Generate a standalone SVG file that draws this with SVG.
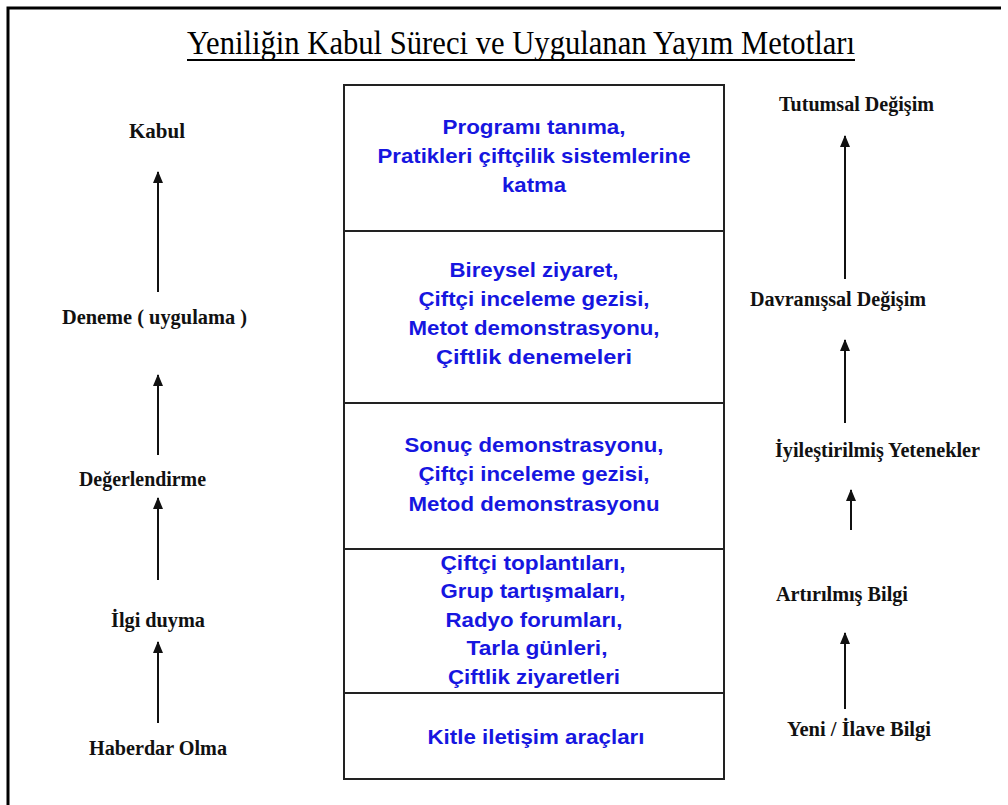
<svg xmlns="http://www.w3.org/2000/svg" width="1008" height="805" viewBox="0 0 1008 805">
<style>
.stage{font-family:"Liberation Serif","Times New Roman",serif;font-weight:bold;font-size:20px;fill:#111;}
.meth{font-family:"Liberation Sans",Arial,sans-serif;font-weight:bold;font-size:21px;fill:#1616e0;text-anchor:middle;}
.arr{stroke:#111;stroke-width:2;fill:none;}
.box{fill:#fff;stroke:#222;stroke-width:2;}
</style>
<defs>
<marker id="ah" viewBox="0 0 12 10" refX="11" refY="5" markerWidth="12" markerHeight="10" markerUnits="userSpaceOnUse" orient="auto">
<path d="M0,0 L12,5 L0,10 Z" fill="#111"/>
</marker>
</defs>
<rect width="1008" height="805" fill="#fff"/>
<g id="frame">
<path d="M8,805 L8,8 L1001,8" stroke="#000" stroke-width="3" fill="none"/>
</g>
<g id="title">
<text x="187" y="54" font-family="'Liberation Serif','Times New Roman',serif" font-size="34" fill="#000" textLength="668" lengthAdjust="spacingAndGlyphs">Yeniliğin Kabul Süreci ve Uygulanan Yayım Metotları</text>
<line x1="187" y1="60" x2="855" y2="60" stroke="#000" stroke-width="2"/>
</g>
<g id="methods">
<g id="box1">
<rect class="box" x="344" y="85" width="380" height="146"/>
<text class="meth" x="534" y="134" textLength="183" lengthAdjust="spacingAndGlyphs">Programı tanıma,</text>
<text class="meth" x="534" y="163" textLength="313" lengthAdjust="spacingAndGlyphs">Pratikleri çiftçilik sistemlerine</text>
<text class="meth" x="534" y="192" textLength="64" lengthAdjust="spacingAndGlyphs">katma</text>
</g>
<g id="box2">
<rect class="box" x="344" y="231" width="380" height="172"/>
<text class="meth" x="534" y="277" textLength="169" lengthAdjust="spacingAndGlyphs">Bireysel ziyaret,</text>
<text class="meth" x="534" y="306" textLength="231" lengthAdjust="spacingAndGlyphs">Çiftçi inceleme gezisi,</text>
<text class="meth" x="534" y="335" textLength="251" lengthAdjust="spacingAndGlyphs">Metot demonstrasyonu,</text>
<text class="meth" x="534" y="364" textLength="196" lengthAdjust="spacingAndGlyphs">Çiftlik denemeleri</text>
</g>
<g id="box3">
<rect class="box" x="344" y="403" width="380" height="146"/>
<text class="meth" x="534" y="452" textLength="259" lengthAdjust="spacingAndGlyphs">Sonuç demonstrasyonu,</text>
<text class="meth" x="534" y="481" textLength="231" lengthAdjust="spacingAndGlyphs">Çiftçi inceleme gezisi,</text>
<text class="meth" x="534" y="511" textLength="251" lengthAdjust="spacingAndGlyphs">Metod demonstrasyonu</text>
</g>
<g id="box4">
<rect class="box" x="344" y="549" width="380" height="144"/>
<text class="meth" x="533" y="570" textLength="185" lengthAdjust="spacingAndGlyphs">Çiftçi toplantıları,</text>
<text class="meth" x="533" y="598" textLength="185" lengthAdjust="spacingAndGlyphs">Grup tartışmaları,</text>
<text class="meth" x="534" y="627" textLength="177" lengthAdjust="spacingAndGlyphs">Radyo forumları,</text>
<text class="meth" x="537" y="655" textLength="141" lengthAdjust="spacingAndGlyphs">Tarla günleri,</text>
<text class="meth" x="534" y="684" textLength="172" lengthAdjust="spacingAndGlyphs">Çiftlik ziyaretleri</text>
</g>
<g id="box5">
<rect class="box" x="344" y="693" width="380" height="86"/>
<text class="meth" x="536" y="744" textLength="217" lengthAdjust="spacingAndGlyphs">Kitle iletişim araçları</text>
</g>
</g>
<g id="stage-kabul"><text class="stage" x="129" y="138" textLength="56" lengthAdjust="spacingAndGlyphs">Kabul</text></g>
<g id="stage-deneme"><text class="stage" x="62" y="324" textLength="185" lengthAdjust="spacingAndGlyphs">Deneme ( uygulama )</text></g>
<g id="stage-degerlendirme"><text class="stage" x="79" y="486" textLength="127" lengthAdjust="spacingAndGlyphs">Değerlendirme</text></g>
<g id="stage-ilgi"><text class="stage" x="111" y="627" textLength="94" lengthAdjust="spacingAndGlyphs">İlgi duyma</text></g>
<g id="stage-haberdar"><text class="stage" x="89" y="755" textLength="138" lengthAdjust="spacingAndGlyphs">Haberdar Olma</text></g>
<g id="change-tutumsal"><text class="stage" x="779" y="111" textLength="155" lengthAdjust="spacingAndGlyphs">Tutumsal Değişim</text></g>
<g id="change-davranissal"><text class="stage" x="750" y="306" textLength="176" lengthAdjust="spacingAndGlyphs">Davranışsal Değişim</text></g>
<g id="change-yetenek"><text class="stage" x="775" y="457" textLength="205" lengthAdjust="spacingAndGlyphs">İyileştirilmiş Yetenekler</text></g>
<g id="change-artirilmis"><text class="stage" x="776" y="601" textLength="132" lengthAdjust="spacingAndGlyphs">Artırılmış Bilgi</text></g>
<g id="change-yeni"><text class="stage" x="787" y="736" textLength="144" lengthAdjust="spacingAndGlyphs">Yeni / İlave Bilgi</text></g>
<g id="connectors">
<line class="arr" x1="158" y1="292" x2="158" y2="172" marker-end="url(#ah)"/>
<line class="arr" x1="158" y1="455" x2="158" y2="375" marker-end="url(#ah)"/>
<line class="arr" x1="158" y1="580" x2="158" y2="498" marker-end="url(#ah)"/>
<line class="arr" x1="158" y1="723" x2="158" y2="642" marker-end="url(#ah)"/>
<line class="arr" x1="845" y1="279" x2="845" y2="136" marker-end="url(#ah)"/>
<line class="arr" x1="845" y1="423" x2="845" y2="340" marker-end="url(#ah)"/>
<line class="arr" x1="851" y1="530" x2="851" y2="490" marker-end="url(#ah)"/>
<line class="arr" x1="845" y1="709" x2="845" y2="633" marker-end="url(#ah)"/>
</g>
</svg>
